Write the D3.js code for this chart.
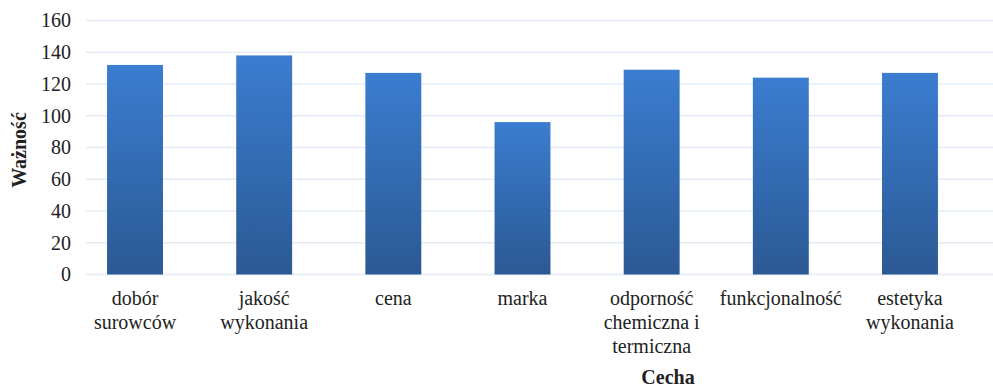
<!DOCTYPE html>
<html>
<head>
<meta charset="utf-8">
<script src="https://cdn.jsdelivr.net/npm/d3@7"></script>
<style>
  body { margin: 0; background: #fff; }
  svg text { font-family: "Liberation Serif", "Times New Roman", Tinos, "DejaVu Serif", serif; fill: #222; }
</style>
</head>
<body>
<svg width="993" height="388"></svg>
<script>
const categories = ['dobór surowców', 'jakość wykonania', 'cena', 'marka',
  'odporność chemiczna i termiczna', 'funkcjonalność', 'estetyka wykonania'];
// how each category label wraps in the picture
const categoryLines = [
  ['dobór', 'surowców'],
  ['jakość', 'wykonania'],
  ['cena'],
  ['marka'],
  ['odporność', 'chemiczna i', 'termiczna'],
  ['funkcjonalność'],
  ['estetyka', 'wykonania']
];
const values = [132, 138, 127, 96, 129, 124, 127];
const yTicks = [0, 20, 40, 60, 80, 100, 120, 140, 160];
const yTitle = 'Ważność';
const xTitle = 'Cecha';

const svg = d3.select('svg');
const width = +svg.attr('width');

const x = d3.scaleBand()
  .domain(categories)
  .range([70.5, 974.5])
  .paddingInner(0.567)
  .paddingOuter(0.283);
const y = d3.scaleLinear()
  .domain([0, 160])
  .range([274.5, 20.5]);

const grad = svg.append('defs').append('linearGradient')
  .attr('id', 'barGrad')
  .attr('x1', 0).attr('y1', 0).attr('x2', 0).attr('y2', 1);
grad.append('stop').attr('offset', '0%').attr('stop-color', '#3b7dd0');
grad.append('stop').attr('offset', '100%').attr('stop-color', '#2b5994');

// gridlines
svg.append('g')
  .selectAll('line')
  .data(yTicks)
  .enter().append('line')
  .attr('x1', 86).attr('x2', width)
  .attr('y1', d => y(d)).attr('y2', d => y(d))
  .attr('stroke', '#e3ecf6')
  .attr('stroke-width', 1.5);

// y axis labels
const yAxis = svg.append('g')
  .attr('transform', 'translate(71,0)')
  .call(d3.axisLeft(y).tickValues(yTicks).tickSize(0).tickPadding(0));
yAxis.attr('font-family', null).attr('font-size', null);
yAxis.select('.domain').remove();
yAxis.selectAll('text')
  .style('font-size', '20px')
  .attr('fill', '#222');

// bars
svg.append('g')
  .selectAll('rect')
  .data(values)
  .enter().append('rect')
  .attr('x', (v, i) => x(categories[i]))
  .attr('y', v => y(v))
  .attr('width', x.bandwidth())
  .attr('height', v => y(0) - y(v))
  .attr('fill', 'url(#barGrad)');

// category labels
const labels = svg.append('g')
  .selectAll('text')
  .data(categories)
  .enter().append('text')
  .attr('text-anchor', 'middle')
  .style('font-size', '20px')
  .attr('x', d => x(d) + x.bandwidth() / 2)
  .attr('y', 305);
labels.selectAll('tspan')
  .data((d, i) => categoryLines[i])
  .enter().append('tspan')
  .attr('x', function() { return d3.select(this.parentNode).attr('x'); })
  .attr('dy', (d, j) => j === 0 ? 0 : 24)
  .text(d => d);

// axis titles
svg.append('text')
  .attr('transform', 'translate(26,150) rotate(-90)')
  .attr('text-anchor', 'middle')
  .style('font-size', '20px')
  .style('font-weight', 'bold')
  .text(yTitle);
svg.append('text')
  .attr('x', 668)
  .attr('y', 384)
  .attr('text-anchor', 'middle')
  .style('font-size', '20px')
  .style('font-weight', 'bold')
  .text(xTitle);
</script>
</body>
</html>
